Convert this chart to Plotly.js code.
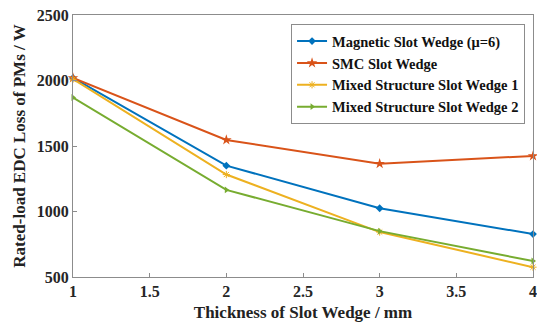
<!DOCTYPE html>
<html>
<head>
<meta charset="utf-8">
<script src="https://cdn.plot.ly/plotly-3.0.1.min.js"></script>
<style>
  html, body { margin: 0; padding: 0; background: #fff; }
  #chart { width: 537px; height: 324px; }
</style>
</head>
<body>
<div id="chart"></div>
<script>
// Slot wedge thickness (mm)
const thickness = [1, 2, 3, 4];

// Rated-load eddy-current loss of permanent magnets (W)
const magneticWedge = [2020, 1350, 1025, 828];
const smcWedge = [2020, 1546, 1365, 1424];
const mixedWedge1 = [2010, 1282, 843, 575];
const mixedWedge2 = [1870, 1165, 850, 622];

const seriesNames = [
  'Magnetic Slot Wedge (\u03bc=6)',
  'SMC Slot Wedge',
  'Mixed Structure Slot Wedge 1',
  'Mixed Structure Slot Wedge 2'
];

const xTicks = [1, 1.5, 2, 2.5, 3, 3.5, 4];
const xTickText = ['1', '1.5', '2', '2.5', '3', '3.5', '4'];
const yTicks = [500, 1000, 1500, 2000, 2500];
const yTickText = ['500', '1000', '1500', '2000', '2500'];

const serif = 'Liberation Serif';

function series(y, name, color, symbol, size) {
  return {
    x: thickness, y: y, name: name, type: 'scatter', mode: 'lines+markers',
    line: { color: color, width: 2 },
    marker: { color: color, symbol: symbol, size: size },
    cliponaxis: false
  };
}

const data = [
  series(magneticWedge, seriesNames[0], '#0072BD', 'diamond', 6),
  series(smcWedge, seriesNames[1], '#D95319', 'star', 8),
  series(mixedWedge1, seriesNames[2], '#EDB120', 'asterisk-open', 6),
  series(mixedWedge2, seriesNames[3], '#77AC30', 'triangle-right', 6)
];

const axisCommon = {
  showline: true, mirror: true, linecolor: '#8c8c8c', linewidth: 1,
  ticks: 'inside', ticklen: 4, tickcolor: '#8c8c8c',
  showgrid: false, zeroline: false, ticklabeloverflow: 'allow',
  automargin: false,
  tickfont: { family: serif, size: 16, color: '#262626', weight: 700 }
};

const layout = {
  width: 537, height: 324,
  margin: { l: 73, r: 4, t: 15, b: 47, autoexpand: false },
  paper_bgcolor: '#fff', plot_bgcolor: '#fff',
  showlegend: true,
  legend: {
    x: 0.474, y: 0.965, xanchor: 'left', yanchor: 'top',
    bgcolor: '#fff', bordercolor: '#8c8c8c', borderwidth: 1,
    font: { family: serif, size: 14.5, color: '#111', weight: 700 },
    itemwidth: 30, tracegroupgap: 0
  },
  xaxis: Object.assign({}, axisCommon, {
    range: [1, 4], tickvals: xTicks, ticktext: xTickText,
    title: { text: 'Thickness of Slot Wedge / mm', standoff: 6,
      font: { family: serif, size: 17, color: '#222', weight: 700 } }
  }),
  yaxis: Object.assign({}, axisCommon, {
    range: [500, 2500], tickvals: yTicks, ticktext: yTickText,
    title: { text: 'Rated-load EDC Loss of PMs / W', standoff: 6,
      font: { family: serif, size: 17, color: '#222', weight: 700 } }
  })
};

Plotly.newPlot('chart', data, layout, { displayModeBar: false, staticPlot: true });
</script>
</body>
</html>
